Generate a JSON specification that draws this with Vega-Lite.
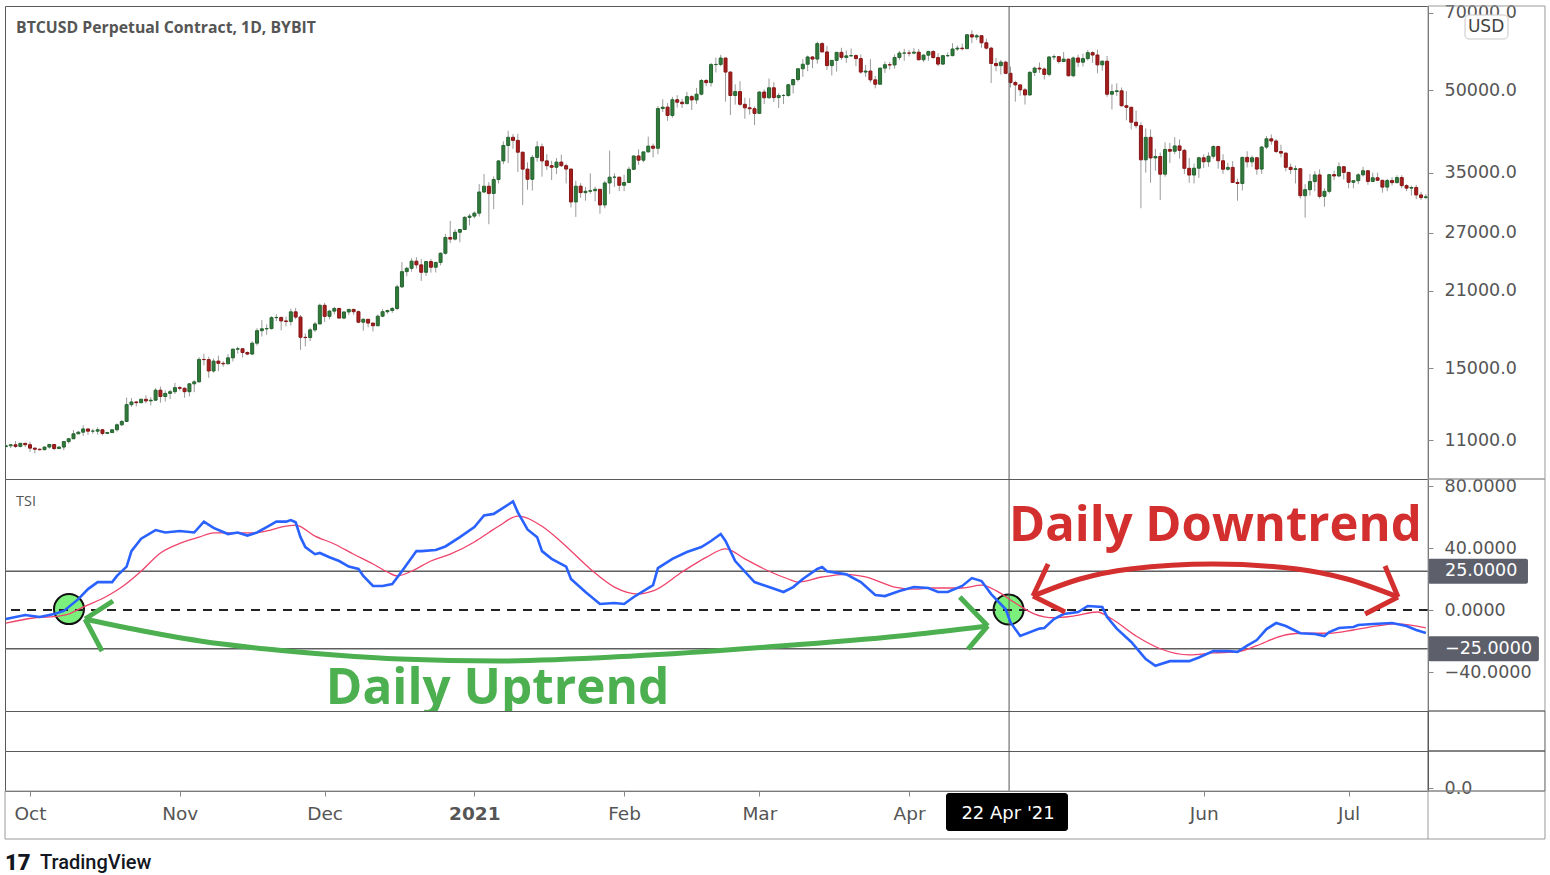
{
  "$schema": "https://vega.github.io/schema/vega-lite/v6.json",
  "padding": {"left": 0, "top": 3, "right": 0, "bottom": 0},
  "background": "white",
  "spacing": 0,
  "bounds": "flush",
  "config": {"view": {"stroke": "#5a5a5a", "strokeWidth": 1}},
  "datasets": {
    "one": [{}],
    "candles": [
      {"d":"2020-09-26T00:00","o":10690,"h":10780,"l":10650,"c":10730},
      {"d":"2020-09-27T00:00","o":10730,"h":10800,"l":10620,"c":10775},
      {"d":"2020-09-28T00:00","o":10775,"h":10950,"l":10630,"c":10700},
      {"d":"2020-09-29T00:00","o":10700,"h":10860,"l":10650,"c":10845},
      {"d":"2020-09-30T00:00","o":10845,"h":10850,"l":10670,"c":10780},
      {"d":"2020-10-01T00:00","o":10780,"h":10920,"l":10450,"c":10620},
      {"d":"2020-10-02T00:00","o":10620,"h":10650,"l":10380,"c":10570},
      {"d":"2020-10-03T00:00","o":10570,"h":10600,"l":10510,"c":10550},
      {"d":"2020-10-04T00:00","o":10550,"h":10690,"l":10520,"c":10670},
      {"d":"2020-10-05T00:00","o":10670,"h":10800,"l":10600,"c":10790},
      {"d":"2020-10-06T00:00","o":10790,"h":10800,"l":10530,"c":10600},
      {"d":"2020-10-07T00:00","o":10600,"h":10700,"l":10580,"c":10670},
      {"d":"2020-10-08T00:00","o":10670,"h":10960,"l":10530,"c":10925},
      {"d":"2020-10-09T00:00","o":10925,"h":11100,"l":10830,"c":11060},
      {"d":"2020-10-10T00:00","o":11060,"h":11490,"l":11050,"c":11300},
      {"d":"2020-10-11T00:00","o":11300,"h":11440,"l":11280,"c":11380},
      {"d":"2020-10-12T00:00","o":11380,"h":11720,"l":11200,"c":11540},
      {"d":"2020-10-13T00:00","o":11540,"h":11560,"l":11250,"c":11430},
      {"d":"2020-10-14T00:00","o":11430,"h":11550,"l":11300,"c":11430},
      {"d":"2020-10-15T00:00","o":11430,"h":11620,"l":11270,"c":11500},
      {"d":"2020-10-16T00:00","o":11500,"h":11540,"l":11220,"c":11320},
      {"d":"2020-10-17T00:00","o":11320,"h":11400,"l":11300,"c":11360},
      {"d":"2020-10-18T00:00","o":11360,"h":11500,"l":11350,"c":11500},
      {"d":"2020-10-19T00:00","o":11500,"h":11820,"l":11410,"c":11750},
      {"d":"2020-10-20T00:00","o":11750,"h":12000,"l":11690,"c":11920},
      {"d":"2020-10-21T00:00","o":11920,"h":13220,"l":11900,"c":12820},
      {"d":"2020-10-22T00:00","o":12820,"h":13190,"l":12700,"c":12970},
      {"d":"2020-10-23T00:00","o":12970,"h":13030,"l":12720,"c":12930},
      {"d":"2020-10-24T00:00","o":12930,"h":13170,"l":12900,"c":13120},
      {"d":"2020-10-25T00:00","o":13120,"h":13350,"l":12900,"c":13030},
      {"d":"2020-10-26T00:00","o":13030,"h":13240,"l":12780,"c":13070},
      {"d":"2020-10-27T00:00","o":13070,"h":13780,"l":13050,"c":13650},
      {"d":"2020-10-28T00:00","o":13650,"h":13860,"l":12930,"c":13280},
      {"d":"2020-10-29T00:00","o":13280,"h":13640,"l":12990,"c":13460},
      {"d":"2020-10-30T00:00","o":13460,"h":13680,"l":13130,"c":13560},
      {"d":"2020-10-31T00:00","o":13560,"h":14090,"l":13430,"c":13800},
      {"d":"2020-11-01T00:00","o":13800,"h":13900,"l":13630,"c":13760},
      {"d":"2020-11-02T00:00","o":13760,"h":13820,"l":13210,"c":13560},
      {"d":"2020-11-03T00:00","o":13560,"h":14070,"l":13290,"c":14030},
      {"d":"2020-11-04T00:00","o":14030,"h":14250,"l":13530,"c":14150},
      {"d":"2020-11-05T00:00","o":14150,"h":15750,"l":14100,"c":15590},
      {"d":"2020-11-06T00:00","o":15590,"h":15980,"l":15200,"c":15580},
      {"d":"2020-11-07T00:00","o":15580,"h":15770,"l":14400,"c":14830},
      {"d":"2020-11-08T00:00","o":14830,"h":15660,"l":14720,"c":15480},
      {"d":"2020-11-09T00:00","o":15480,"h":15850,"l":14820,"c":15330},
      {"d":"2020-11-10T00:00","o":15330,"h":15480,"l":15110,"c":15300},
      {"d":"2020-11-11T00:00","o":15300,"h":15950,"l":15280,"c":15700},
      {"d":"2020-11-12T00:00","o":15700,"h":16350,"l":15450,"c":16300},
      {"d":"2020-11-13T00:00","o":16300,"h":16480,"l":15980,"c":16330},
      {"d":"2020-11-14T00:00","o":16330,"h":16330,"l":15720,"c":16070},
      {"d":"2020-11-15T00:00","o":16070,"h":16140,"l":15870,"c":15960},
      {"d":"2020-11-16T00:00","o":15960,"h":16870,"l":15880,"c":16730},
      {"d":"2020-11-17T00:00","o":16730,"h":17850,"l":16550,"c":17660},
      {"d":"2020-11-18T00:00","o":17660,"h":18480,"l":17220,"c":17800},
      {"d":"2020-11-19T00:00","o":17800,"h":18150,"l":17350,"c":17820},
      {"d":"2020-11-20T00:00","o":17820,"h":18800,"l":17750,"c":18680},
      {"d":"2020-11-21T00:00","o":18680,"h":18960,"l":18400,"c":18700},
      {"d":"2020-11-22T00:00","o":18700,"h":18760,"l":17680,"c":18420},
      {"d":"2020-11-23T00:00","o":18420,"h":18770,"l":18000,"c":18370},
      {"d":"2020-11-24T00:00","o":18370,"h":19420,"l":18050,"c":19160},
      {"d":"2020-11-25T00:00","o":19160,"h":19480,"l":18560,"c":18730},
      {"d":"2020-11-26T00:00","o":18730,"h":18900,"l":16250,"c":17160},
      {"d":"2020-11-27T00:00","o":17160,"h":17450,"l":16500,"c":17140},
      {"d":"2020-11-28T00:00","o":17140,"h":17890,"l":16880,"c":17720},
      {"d":"2020-11-29T00:00","o":17720,"h":18340,"l":17550,"c":18180},
      {"d":"2020-11-30T00:00","o":18180,"h":19850,"l":18180,"c":19710},
      {"d":"2020-12-01T00:00","o":19710,"h":19920,"l":18330,"c":18790},
      {"d":"2020-12-02T00:00","o":18790,"h":19320,"l":18550,"c":19220},
      {"d":"2020-12-03T00:00","o":19220,"h":19580,"l":18950,"c":19440},
      {"d":"2020-12-04T00:00","o":19440,"h":19500,"l":18600,"c":18650},
      {"d":"2020-12-05T00:00","o":18650,"h":19180,"l":18550,"c":19150},
      {"d":"2020-12-06T00:00","o":19150,"h":19420,"l":18900,"c":19360},
      {"d":"2020-12-07T00:00","o":19360,"h":19420,"l":18910,"c":19170},
      {"d":"2020-12-08T00:00","o":19170,"h":19280,"l":18230,"c":18320},
      {"d":"2020-12-09T00:00","o":18320,"h":18640,"l":17650,"c":18550},
      {"d":"2020-12-10T00:00","o":18550,"h":18570,"l":17920,"c":18250},
      {"d":"2020-12-11T00:00","o":18250,"h":18280,"l":17600,"c":18040},
      {"d":"2020-12-12T00:00","o":18040,"h":18950,"l":18000,"c":18800},
      {"d":"2020-12-13T00:00","o":18800,"h":19400,"l":18720,"c":19170},
      {"d":"2020-12-14T00:00","o":19170,"h":19330,"l":19000,"c":19270},
      {"d":"2020-12-15T00:00","o":19270,"h":19560,"l":19080,"c":19440},
      {"d":"2020-12-16T00:00","o":19440,"h":21550,"l":19300,"c":21350},
      {"d":"2020-12-17T00:00","o":21350,"h":23770,"l":21240,"c":22800},
      {"d":"2020-12-18T00:00","o":22800,"h":23280,"l":22340,"c":23130},
      {"d":"2020-12-19T00:00","o":23130,"h":24170,"l":22800,"c":23860},
      {"d":"2020-12-20T00:00","o":23860,"h":24280,"l":23100,"c":23480},
      {"d":"2020-12-21T00:00","o":23480,"h":24090,"l":21900,"c":22740},
      {"d":"2020-12-22T00:00","o":22740,"h":23840,"l":22380,"c":23820},
      {"d":"2020-12-23T00:00","o":23820,"h":24100,"l":22700,"c":23240},
      {"d":"2020-12-24T00:00","o":23240,"h":23790,"l":22720,"c":23730},
      {"d":"2020-12-25T00:00","o":23730,"h":24780,"l":23430,"c":24690},
      {"d":"2020-12-26T00:00","o":24690,"h":26850,"l":24530,"c":26440},
      {"d":"2020-12-27T00:00","o":26440,"h":28400,"l":25800,"c":26250},
      {"d":"2020-12-28T00:00","o":26250,"h":27400,"l":26100,"c":27040},
      {"d":"2020-12-29T00:00","o":27040,"h":27380,"l":25900,"c":27360},
      {"d":"2020-12-30T00:00","o":27360,"h":28990,"l":27340,"c":28840},
      {"d":"2020-12-31T00:00","o":28840,"h":29300,"l":27850,"c":29000},
      {"d":"2021-01-01T00:00","o":29000,"h":29600,"l":28700,"c":29370},
      {"d":"2021-01-02T00:00","o":29370,"h":33300,"l":28950,"c":32190},
      {"d":"2021-01-03T00:00","o":32190,"h":34800,"l":32000,"c":33000},
      {"d":"2021-01-04T00:00","o":33000,"h":33600,"l":28000,"c":31990},
      {"d":"2021-01-05T00:00","o":31990,"h":34450,"l":29900,"c":33970},
      {"d":"2021-01-06T00:00","o":33970,"h":36950,"l":33400,"c":36820},
      {"d":"2021-01-07T00:00","o":36820,"h":40100,"l":36300,"c":39370},
      {"d":"2021-01-08T00:00","o":39370,"h":41950,"l":36500,"c":40790},
      {"d":"2021-01-09T00:00","o":40790,"h":41350,"l":38800,"c":40250},
      {"d":"2021-01-10T00:00","o":40250,"h":41400,"l":35100,"c":38240},
      {"d":"2021-01-11T00:00","o":38240,"h":38300,"l":30400,"c":35540},
      {"d":"2021-01-12T00:00","o":35540,"h":36600,"l":32500,"c":34010},
      {"d":"2021-01-13T00:00","o":34010,"h":37800,"l":32400,"c":37390},
      {"d":"2021-01-14T00:00","o":37390,"h":40100,"l":36700,"c":39150},
      {"d":"2021-01-15T00:00","o":39150,"h":39700,"l":34400,"c":36830},
      {"d":"2021-01-16T00:00","o":36830,"h":37900,"l":35400,"c":36070},
      {"d":"2021-01-17T00:00","o":36070,"h":36850,"l":33900,"c":35830},
      {"d":"2021-01-18T00:00","o":35830,"h":37300,"l":34800,"c":36640},
      {"d":"2021-01-19T00:00","o":36640,"h":37850,"l":35900,"c":36070},
      {"d":"2021-01-20T00:00","o":36070,"h":36400,"l":33400,"c":35550},
      {"d":"2021-01-21T00:00","o":35550,"h":35600,"l":30100,"c":30830},
      {"d":"2021-01-22T00:00","o":30830,"h":33800,"l":28900,"c":33010},
      {"d":"2021-01-23T00:00","o":33010,"h":33450,"l":31400,"c":32100},
      {"d":"2021-01-24T00:00","o":32100,"h":32900,"l":31000,"c":32290},
      {"d":"2021-01-25T00:00","o":32290,"h":34900,"l":31950,"c":32370},
      {"d":"2021-01-26T00:00","o":32370,"h":32950,"l":30900,"c":32570},
      {"d":"2021-01-27T00:00","o":32570,"h":32560,"l":29300,"c":30430},
      {"d":"2021-01-28T00:00","o":30430,"h":33800,"l":30000,"c":33470},
      {"d":"2021-01-29T00:00","o":33470,"h":38500,"l":31900,"c":34320},
      {"d":"2021-01-30T00:00","o":34320,"h":34900,"l":32900,"c":34320},
      {"d":"2021-01-31T00:00","o":34320,"h":34380,"l":32300,"c":33140},
      {"d":"2021-02-01T00:00","o":33140,"h":34700,"l":32300,"c":33540},
      {"d":"2021-02-02T00:00","o":33540,"h":35900,"l":33450,"c":35510},
      {"d":"2021-02-03T00:00","o":35510,"h":37700,"l":35400,"c":37620},
      {"d":"2021-02-04T00:00","o":37620,"h":38700,"l":36200,"c":36940},
      {"d":"2021-02-05T00:00","o":36940,"h":38300,"l":36600,"c":38290},
      {"d":"2021-02-06T00:00","o":38290,"h":40900,"l":38200,"c":39260},
      {"d":"2021-02-07T00:00","o":39260,"h":39700,"l":37400,"c":38900},
      {"d":"2021-02-08T00:00","o":38900,"h":46700,"l":37900,"c":46200},
      {"d":"2021-02-09T00:00","o":46200,"h":48100,"l":45500,"c":46480},
      {"d":"2021-02-10T00:00","o":46480,"h":47300,"l":43800,"c":44840},
      {"d":"2021-02-11T00:00","o":44840,"h":48600,"l":44400,"c":47990},
      {"d":"2021-02-12T00:00","o":47990,"h":48950,"l":46400,"c":47480},
      {"d":"2021-02-13T00:00","o":47480,"h":48200,"l":46300,"c":47180},
      {"d":"2021-02-14T00:00","o":47180,"h":49650,"l":47100,"c":48640},
      {"d":"2021-02-15T00:00","o":48640,"h":49000,"l":45900,"c":47950},
      {"d":"2021-02-16T00:00","o":47950,"h":50500,"l":47150,"c":49160},
      {"d":"2021-02-17T00:00","o":49160,"h":52500,"l":48900,"c":52150},
      {"d":"2021-02-18T00:00","o":52150,"h":52500,"l":50900,"c":51680},
      {"d":"2021-02-19T00:00","o":51680,"h":56300,"l":50800,"c":55880},
      {"d":"2021-02-20T00:00","o":55880,"h":57600,"l":54000,"c":55920},
      {"d":"2021-02-21T00:00","o":55920,"h":58300,"l":55500,"c":57490},
      {"d":"2021-02-22T00:00","o":57490,"h":57500,"l":47600,"c":54100},
      {"d":"2021-02-23T00:00","o":54100,"h":54200,"l":44900,"c":48880},
      {"d":"2021-02-24T00:00","o":48880,"h":51300,"l":47000,"c":49710},
      {"d":"2021-02-25T00:00","o":49710,"h":52000,"l":46700,"c":47050},
      {"d":"2021-02-26T00:00","o":47050,"h":48400,"l":44200,"c":46340},
      {"d":"2021-02-27T00:00","o":46340,"h":48300,"l":45000,"c":46160},
      {"d":"2021-02-28T00:00","o":46160,"h":46600,"l":43000,"c":45240},
      {"d":"2021-03-01T00:00","o":45240,"h":49800,"l":45100,"c":49620},
      {"d":"2021-03-02T00:00","o":49620,"h":50200,"l":47100,"c":48400},
      {"d":"2021-03-03T00:00","o":48400,"h":52600,"l":48200,"c":50540},
      {"d":"2021-03-04T00:00","o":50540,"h":51800,"l":47500,"c":48440},
      {"d":"2021-03-05T00:00","o":48440,"h":49400,"l":46300,"c":48880},
      {"d":"2021-03-06T00:00","o":48880,"h":49200,"l":47100,"c":48880},
      {"d":"2021-03-07T00:00","o":48880,"h":51400,"l":48600,"c":51210},
      {"d":"2021-03-08T00:00","o":51210,"h":52400,"l":49300,"c":52380},
      {"d":"2021-03-09T00:00","o":52380,"h":54900,"l":51900,"c":54880},
      {"d":"2021-03-10T00:00","o":54880,"h":57200,"l":53000,"c":55960},
      {"d":"2021-03-11T00:00","o":55960,"h":58100,"l":54300,"c":57750},
      {"d":"2021-03-12T00:00","o":57750,"h":58000,"l":55000,"c":57230},
      {"d":"2021-03-13T00:00","o":57230,"h":61700,"l":56100,"c":61190},
      {"d":"2021-03-14T00:00","o":61190,"h":61600,"l":58950,"c":59020},
      {"d":"2021-03-15T00:00","o":59020,"h":60600,"l":54600,"c":55640},
      {"d":"2021-03-16T00:00","o":55640,"h":56900,"l":53300,"c":56910},
      {"d":"2021-03-17T00:00","o":56910,"h":58950,"l":54200,"c":58920},
      {"d":"2021-03-18T00:00","o":58920,"h":60100,"l":57000,"c":57650},
      {"d":"2021-03-19T00:00","o":57650,"h":59400,"l":56300,"c":58030},
      {"d":"2021-03-20T00:00","o":58030,"h":59900,"l":57800,"c":58100},
      {"d":"2021-03-21T00:00","o":58100,"h":58400,"l":55500,"c":57350},
      {"d":"2021-03-22T00:00","o":57350,"h":58400,"l":53700,"c":54100},
      {"d":"2021-03-23T00:00","o":54100,"h":55800,"l":53000,"c":54340},
      {"d":"2021-03-24T00:00","o":54340,"h":57200,"l":51700,"c":52300},
      {"d":"2021-03-25T00:00","o":52300,"h":53200,"l":50400,"c":51320},
      {"d":"2021-03-26T00:00","o":51320,"h":55100,"l":51300,"c":55030},
      {"d":"2021-03-27T00:00","o":55030,"h":56600,"l":53900,"c":55850},
      {"d":"2021-03-28T00:00","o":55850,"h":56550,"l":54700,"c":55790},
      {"d":"2021-03-29T00:00","o":55790,"h":58400,"l":54900,"c":57630},
      {"d":"2021-03-30T00:00","o":57630,"h":59300,"l":57000,"c":58730},
      {"d":"2021-03-31T00:00","o":58730,"h":59800,"l":56800,"c":58740},
      {"d":"2021-04-01T00:00","o":58740,"h":59500,"l":57900,"c":58720},
      {"d":"2021-04-02T00:00","o":58720,"h":60000,"l":58450,"c":58960},
      {"d":"2021-04-03T00:00","o":58960,"h":59800,"l":56900,"c":57060},
      {"d":"2021-04-04T00:00","o":57060,"h":58500,"l":56500,"c":58200},
      {"d":"2021-04-05T00:00","o":58200,"h":59300,"l":56800,"c":59120},
      {"d":"2021-04-06T00:00","o":59120,"h":59500,"l":57300,"c":57600},
      {"d":"2021-04-07T00:00","o":57600,"h":58700,"l":55500,"c":56000},
      {"d":"2021-04-08T00:00","o":56000,"h":58200,"l":55800,"c":58080},
      {"d":"2021-04-09T00:00","o":58080,"h":58900,"l":57700,"c":58090},
      {"d":"2021-04-10T00:00","o":58090,"h":61300,"l":57900,"c":59780},
      {"d":"2021-04-11T00:00","o":59780,"h":60700,"l":59300,"c":60000},
      {"d":"2021-04-12T00:00","o":60000,"h":61200,"l":59400,"c":59860},
      {"d":"2021-04-13T00:00","o":59860,"h":63800,"l":59800,"c":63580},
      {"d":"2021-04-14T00:00","o":63580,"h":64850,"l":61300,"c":62960},
      {"d":"2021-04-15T00:00","o":62960,"h":63800,"l":62100,"c":63310},
      {"d":"2021-04-16T00:00","o":63310,"h":63500,"l":60100,"c":61410},
      {"d":"2021-04-17T00:00","o":61410,"h":62500,"l":59700,"c":60000},
      {"d":"2021-04-18T00:00","o":60000,"h":60400,"l":51600,"c":56150},
      {"d":"2021-04-19T00:00","o":56150,"h":57500,"l":54300,"c":55630},
      {"d":"2021-04-20T00:00","o":55630,"h":57000,"l":53500,"c":56470},
      {"d":"2021-04-21T00:00","o":56470,"h":56800,"l":53600,"c":53800},
      {"d":"2021-04-22T00:00","o":53800,"h":55400,"l":50600,"c":51700},
      {"d":"2021-04-23T00:00","o":51700,"h":52100,"l":47600,"c":51180},
      {"d":"2021-04-24T00:00","o":51180,"h":51200,"l":48800,"c":50090},
      {"d":"2021-04-25T00:00","o":50090,"h":50500,"l":47000,"c":49000},
      {"d":"2021-04-26T00:00","o":49000,"h":54300,"l":48800,"c":54030},
      {"d":"2021-04-27T00:00","o":54030,"h":55400,"l":53200,"c":55030},
      {"d":"2021-04-28T00:00","o":55030,"h":56400,"l":53900,"c":54820},
      {"d":"2021-04-29T00:00","o":54820,"h":55200,"l":52400,"c":53560},
      {"d":"2021-04-30T00:00","o":53560,"h":58000,"l":53100,"c":57750},
      {"d":"2021-05-01T00:00","o":57750,"h":58400,"l":57000,"c":57830},
      {"d":"2021-05-02T00:00","o":57830,"h":57900,"l":56100,"c":56630},
      {"d":"2021-05-03T00:00","o":56630,"h":59000,"l":56500,"c":57210},
      {"d":"2021-05-04T00:00","o":57210,"h":57300,"l":53100,"c":53240},
      {"d":"2021-05-05T00:00","o":53240,"h":57900,"l":52900,"c":57500},
      {"d":"2021-05-06T00:00","o":57500,"h":58300,"l":55300,"c":56460},
      {"d":"2021-05-07T00:00","o":56460,"h":58600,"l":55400,"c":57340},
      {"d":"2021-05-08T00:00","o":57340,"h":59500,"l":56900,"c":58840},
      {"d":"2021-05-09T00:00","o":58840,"h":59200,"l":56300,"c":58240},
      {"d":"2021-05-10T00:00","o":58240,"h":59600,"l":53800,"c":55820},
      {"d":"2021-05-11T00:00","o":55820,"h":56900,"l":54400,"c":56700},
      {"d":"2021-05-12T00:00","o":56700,"h":58000,"l":48600,"c":49150},
      {"d":"2021-05-13T00:00","o":49150,"h":51300,"l":46000,"c":49720},
      {"d":"2021-05-14T00:00","o":49720,"h":51500,"l":48800,"c":49880},
      {"d":"2021-05-15T00:00","o":49880,"h":50600,"l":46600,"c":46760},
      {"d":"2021-05-16T00:00","o":46760,"h":49800,"l":43900,"c":46440},
      {"d":"2021-05-17T00:00","o":46440,"h":46600,"l":42200,"c":43540},
      {"d":"2021-05-18T00:00","o":43540,"h":45800,"l":42400,"c":42900},
      {"d":"2021-05-19T00:00","o":42900,"h":43500,"l":30000,"c":37000},
      {"d":"2021-05-20T00:00","o":37000,"h":42400,"l":35000,"c":40780},
      {"d":"2021-05-21T00:00","o":40780,"h":42200,"l":33500,"c":37300},
      {"d":"2021-05-22T00:00","o":37300,"h":38800,"l":35300,"c":37540},
      {"d":"2021-05-23T00:00","o":37540,"h":38200,"l":31100,"c":34770},
      {"d":"2021-05-24T00:00","o":34770,"h":39900,"l":34400,"c":38700},
      {"d":"2021-05-25T00:00","o":38700,"h":39800,"l":36500,"c":38400},
      {"d":"2021-05-26T00:00","o":38400,"h":40800,"l":37900,"c":39290},
      {"d":"2021-05-27T00:00","o":39290,"h":40400,"l":37200,"c":38550},
      {"d":"2021-05-28T00:00","o":38550,"h":38800,"l":34800,"c":35660},
      {"d":"2021-05-29T00:00","o":35660,"h":37300,"l":33500,"c":34640},
      {"d":"2021-05-30T00:00","o":34640,"h":36400,"l":33400,"c":35680},
      {"d":"2021-05-31T00:00","o":35680,"h":37500,"l":34200,"c":37330},
      {"d":"2021-06-01T00:00","o":37330,"h":37900,"l":35700,"c":36690},
      {"d":"2021-06-02T00:00","o":36690,"h":38200,"l":35900,"c":37580},
      {"d":"2021-06-03T00:00","o":37580,"h":39400,"l":37200,"c":39190},
      {"d":"2021-06-04T00:00","o":39190,"h":39300,"l":35600,"c":36850},
      {"d":"2021-06-05T00:00","o":36850,"h":37900,"l":34800,"c":35520},
      {"d":"2021-06-06T00:00","o":35520,"h":36500,"l":35300,"c":35800},
      {"d":"2021-06-07T00:00","o":35800,"h":36800,"l":33500,"c":33550},
      {"d":"2021-06-08T00:00","o":33550,"h":34100,"l":31000,"c":33400},
      {"d":"2021-06-09T00:00","o":33400,"h":37500,"l":32400,"c":37390},
      {"d":"2021-06-10T00:00","o":37390,"h":38400,"l":35800,"c":36680},
      {"d":"2021-06-11T00:00","o":36680,"h":37700,"l":35900,"c":37330},
      {"d":"2021-06-12T00:00","o":37330,"h":37400,"l":34700,"c":35550},
      {"d":"2021-06-13T00:00","o":35550,"h":39300,"l":34800,"c":39100},
      {"d":"2021-06-14T00:00","o":39100,"h":41000,"l":38800,"c":40520},
      {"d":"2021-06-15T00:00","o":40520,"h":41300,"l":39500,"c":40140},
      {"d":"2021-06-16T00:00","o":40140,"h":40500,"l":38100,"c":38350},
      {"d":"2021-06-17T00:00","o":38350,"h":39500,"l":37400,"c":38090},
      {"d":"2021-06-18T00:00","o":38090,"h":38200,"l":35200,"c":35820},
      {"d":"2021-06-19T00:00","o":35820,"h":36400,"l":34800,"c":35480},
      {"d":"2021-06-20T00:00","o":35480,"h":36100,"l":33400,"c":35600},
      {"d":"2021-06-21T00:00","o":35600,"h":35700,"l":31300,"c":31680},
      {"d":"2021-06-22T00:00","o":31680,"h":33300,"l":28800,"c":32510},
      {"d":"2021-06-23T00:00","o":32510,"h":34800,"l":31700,"c":33680},
      {"d":"2021-06-24T00:00","o":33680,"h":35200,"l":32300,"c":34660},
      {"d":"2021-06-25T00:00","o":34660,"h":35500,"l":31300,"c":31590},
      {"d":"2021-06-26T00:00","o":31590,"h":32700,"l":30200,"c":32280},
      {"d":"2021-06-27T00:00","o":32280,"h":34700,"l":32000,"c":34700},
      {"d":"2021-06-28T00:00","o":34700,"h":35300,"l":33900,"c":34500},
      {"d":"2021-06-29T00:00","o":34500,"h":36600,"l":34300,"c":35910},
      {"d":"2021-06-30T00:00","o":35910,"h":36000,"l":34000,"c":35040},
      {"d":"2021-07-01T00:00","o":35040,"h":35100,"l":32700,"c":33570},
      {"d":"2021-07-02T00:00","o":33570,"h":33900,"l":32700,"c":33800},
      {"d":"2021-07-03T00:00","o":33800,"h":34900,"l":33300,"c":34670},
      {"d":"2021-07-04T00:00","o":34670,"h":35900,"l":34400,"c":35290},
      {"d":"2021-07-05T00:00","o":35290,"h":35300,"l":33200,"c":33690},
      {"d":"2021-07-06T00:00","o":33690,"h":35000,"l":33600,"c":34230},
      {"d":"2021-07-07T00:00","o":34230,"h":35000,"l":33800,"c":33860},
      {"d":"2021-07-08T00:00","o":33860,"h":33900,"l":32100,"c":32880},
      {"d":"2021-07-09T00:00","o":32880,"h":34100,"l":32300,"c":33820},
      {"d":"2021-07-10T00:00","o":33820,"h":34300,"l":33100,"c":33520},
      {"d":"2021-07-11T00:00","o":33520,"h":34600,"l":33400,"c":34260},
      {"d":"2021-07-12T00:00","o":34260,"h":34600,"l":32700,"c":33090},
      {"d":"2021-07-13T00:00","o":33090,"h":33300,"l":32300,"c":32730},
      {"d":"2021-07-14T00:00","o":32730,"h":33100,"l":31700,"c":32820},
      {"d":"2021-07-15T00:00","o":32820,"h":33200,"l":31200,"c":31780},
      {"d":"2021-07-16T00:00","o":31780,"h":32200,"l":31100,"c":31420},
      {"d":"2021-07-17T00:00","o":31420,"h":31900,"l":31200,"c":31530}
    ],
    "tsi": [
      {"d":"2020-09-26T00:00","v":-5.8},{"d":"2020-09-30T00:00","v":-3.2},{"d":"2020-10-03T00:00","v":-4.5},
      {"d":"2020-10-06T00:00","v":-2.6},{"d":"2020-10-08T00:00","v":-0.6},{"d":"2020-10-11T00:00","v":7},
      {"d":"2020-10-13T00:00","v":13.5},{"d":"2020-10-15T00:00","v":18},{"d":"2020-10-18T00:00","v":18},
      {"d":"2020-10-19T00:00","v":22},{"d":"2020-10-21T00:00","v":28},{"d":"2020-10-22T00:00","v":38},
      {"d":"2020-10-24T00:00","v":46},{"d":"2020-10-27T00:00","v":51.6},{"d":"2020-10-29T00:00","v":50},
      {"d":"2020-11-01T00:00","v":51},{"d":"2020-11-04T00:00","v":50},{"d":"2020-11-06T00:00","v":57},
      {"d":"2020-11-08T00:00","v":53},{"d":"2020-11-11T00:00","v":49},{"d":"2020-11-13T00:00","v":50},
      {"d":"2020-11-15T00:00","v":48},{"d":"2020-11-17T00:00","v":50},{"d":"2020-11-19T00:00","v":53.5},
      {"d":"2020-11-21T00:00","v":57},{"d":"2020-11-23T00:00","v":57},{"d":"2020-11-24T00:00","v":58},
      {"d":"2020-11-25T00:00","v":56.6},{"d":"2020-11-26T00:00","v":47},{"d":"2020-11-27T00:00","v":40.6},
      {"d":"2020-11-29T00:00","v":36},{"d":"2020-11-30T00:00","v":36.8},{"d":"2020-12-02T00:00","v":34},
      {"d":"2020-12-04T00:00","v":31.6},{"d":"2020-12-06T00:00","v":28},{"d":"2020-12-08T00:00","v":26.5},
      {"d":"2020-12-09T00:00","v":22},{"d":"2020-12-11T00:00","v":15.5},{"d":"2020-12-13T00:00","v":15.5},
      {"d":"2020-12-15T00:00","v":16.8},{"d":"2020-12-17T00:00","v":25},{"d":"2020-12-20T00:00","v":38},
      {"d":"2020-12-21T00:00","v":38},{"d":"2020-12-24T00:00","v":38.7},{"d":"2020-12-26T00:00","v":41},
      {"d":"2020-12-29T00:00","v":47},{"d":"2021-01-01T00:00","v":53.5},{"d":"2021-01-03T00:00","v":61},
      {"d":"2021-01-05T00:00","v":62},{"d":"2021-01-09T00:00","v":70},{"d":"2021-01-10T00:00","v":63},
      {"d":"2021-01-12T00:00","v":52},{"d":"2021-01-14T00:00","v":47},{"d":"2021-01-15T00:00","v":38},
      {"d":"2021-01-17T00:00","v":33},{"d":"2021-01-20T00:00","v":28},{"d":"2021-01-21T00:00","v":20},
      {"d":"2021-01-24T00:00","v":11.6},{"d":"2021-01-27T00:00","v":3.9},{"d":"2021-01-30T00:00","v":4.5},
      {"d":"2021-02-01T00:00","v":3.9},{"d":"2021-02-03T00:00","v":8.4},{"d":"2021-02-07T00:00","v":16},
      {"d":"2021-02-08T00:00","v":27},{"d":"2021-02-11T00:00","v":33},{"d":"2021-02-14T00:00","v":37.4},
      {"d":"2021-02-17T00:00","v":40.6},{"d":"2021-02-19T00:00","v":44.5},{"d":"2021-02-21T00:00","v":49},
      {"d":"2021-02-22T00:00","v":44.5},{"d":"2021-02-24T00:00","v":31.6},{"d":"2021-02-28T00:00","v":18},
      {"d":"2021-03-03T00:00","v":14.8},{"d":"2021-03-06T00:00","v":11.6},{"d":"2021-03-08T00:00","v":14.8},
      {"d":"2021-03-10T00:00","v":20},{"d":"2021-03-13T00:00","v":26.5},{"d":"2021-03-14T00:00","v":27.7},
      {"d":"2021-03-15T00:00","v":25},{"d":"2021-03-19T00:00","v":23},{"d":"2021-03-22T00:00","v":18},
      {"d":"2021-03-25T00:00","v":9.7},{"d":"2021-03-27T00:00","v":9},{"d":"2021-03-30T00:00","v":12.3},
      {"d":"2021-04-02T00:00","v":14.8},{"d":"2021-04-05T00:00","v":14.2},{"d":"2021-04-07T00:00","v":11.6},
      {"d":"2021-04-09T00:00","v":11.6},{"d":"2021-04-12T00:00","v":15.5},{"d":"2021-04-14T00:00","v":20.6},
      {"d":"2021-04-16T00:00","v":18.7},{"d":"2021-04-18T00:00","v":10.3},{"d":"2021-04-21T00:00","v":0.5},
      {"d":"2021-04-22T00:00","v":-8},{"d":"2021-04-24T00:00","v":-16.7},{"d":"2021-04-28T00:00","v":-12},
      {"d":"2021-04-29T00:00","v":-11.6},{"d":"2021-05-01T00:00","v":-5.8},{"d":"2021-05-03T00:00","v":-2.6},
      {"d":"2021-05-06T00:00","v":-1.3},{"d":"2021-05-08T00:00","v":2.6},{"d":"2021-05-11T00:00","v":1.9},
      {"d":"2021-05-12T00:00","v":-4.5},{"d":"2021-05-14T00:00","v":-12},{"d":"2021-05-17T00:00","v":-20.6},
      {"d":"2021-05-19T00:00","v":-28},{"d":"2021-05-20T00:00","v":-31.6},{"d":"2021-05-22T00:00","v":-36},
      {"d":"2021-05-25T00:00","v":-33},{"d":"2021-05-29T00:00","v":-33},{"d":"2021-05-31T00:00","v":-30.6},
      {"d":"2021-06-03T00:00","v":-26.5},{"d":"2021-06-06T00:00","v":-26.5},{"d":"2021-06-08T00:00","v":-27},
      {"d":"2021-06-10T00:00","v":-23},{"d":"2021-06-12T00:00","v":-19.4},{"d":"2021-06-14T00:00","v":-12.3},
      {"d":"2021-06-16T00:00","v":-8.4},{"d":"2021-06-18T00:00","v":-10.3},{"d":"2021-06-21T00:00","v":-15},
      {"d":"2021-06-24T00:00","v":-15.5},{"d":"2021-06-26T00:00","v":-16.8},{"d":"2021-06-27T00:00","v":-14.2},
      {"d":"2021-06-29T00:00","v":-11.6},{"d":"2021-07-02T00:00","v":-11},{"d":"2021-07-03T00:00","v":-9.7},
      {"d":"2021-07-06T00:00","v":-9},{"d":"2021-07-10T00:00","v":-8.4},{"d":"2021-07-13T00:00","v":-10.3},
      {"d":"2021-07-15T00:00","v":-12.9},{"d":"2021-07-17T00:00","v":-14.8}
    ],
    "signal": [
      {"d":"2020-09-26T00:00","v":-8.4},{"d":"2020-10-02T00:00","v":-5},{"d":"2020-10-07T00:00","v":-3.9},
      {"d":"2020-10-09T00:00","v":-2.6},{"d":"2020-10-12T00:00","v":1.9},{"d":"2020-10-17T00:00","v":9},
      {"d":"2020-10-20T00:00","v":14.8},{"d":"2020-10-24T00:00","v":25},{"d":"2020-10-28T00:00","v":36.8},
      {"d":"2020-11-01T00:00","v":43},{"d":"2020-11-05T00:00","v":47},{"d":"2020-11-08T00:00","v":49.7},
      {"d":"2020-11-12T00:00","v":49.7},{"d":"2020-11-16T00:00","v":49.7},{"d":"2020-11-19T00:00","v":51},
      {"d":"2020-11-22T00:00","v":53.5},{"d":"2020-11-25T00:00","v":54.8},{"d":"2020-11-29T00:00","v":47.7},
      {"d":"2020-12-03T00:00","v":42.6},{"d":"2020-12-07T00:00","v":36},{"d":"2020-12-11T00:00","v":29.7},
      {"d":"2020-12-14T00:00","v":24.5},{"d":"2020-12-16T00:00","v":22},{"d":"2020-12-19T00:00","v":25},
      {"d":"2020-12-23T00:00","v":31.6},{"d":"2020-12-27T00:00","v":36},{"d":"2021-01-01T00:00","v":43.9},
      {"d":"2021-01-04T00:00","v":50},{"d":"2021-01-06T00:00","v":54},{"d":"2021-01-10T00:00","v":60.6},
      {"d":"2021-01-15T00:00","v":54},{"d":"2021-01-19T00:00","v":43.9},{"d":"2021-01-25T00:00","v":26.5},
      {"d":"2021-01-30T00:00","v":14.8},{"d":"2021-02-04T00:00","v":10.3},{"d":"2021-02-07T00:00","v":12.3},
      {"d":"2021-02-13T00:00","v":24.5},{"d":"2021-02-18T00:00","v":34},{"d":"2021-02-22T00:00","v":39.4},
      {"d":"2021-02-26T00:00","v":33},{"d":"2021-03-03T00:00","v":25},{"d":"2021-03-07T00:00","v":20},
      {"d":"2021-03-09T00:00","v":18},{"d":"2021-03-14T00:00","v":21.3},{"d":"2021-03-19T00:00","v":23},
      {"d":"2021-03-23T00:00","v":21.3},{"d":"2021-03-29T00:00","v":14.8},{"d":"2021-04-02T00:00","v":13.5},
      {"d":"2021-04-06T00:00","v":14.2},{"d":"2021-04-12T00:00","v":14.2},{"d":"2021-04-16T00:00","v":16},
      {"d":"2021-04-19T00:00","v":12.5},{"d":"2021-04-23T00:00","v":4.5},{"d":"2021-04-27T00:00","v":-2.6},
      {"d":"2021-05-01T00:00","v":-5},{"d":"2021-05-05T00:00","v":-3.9},{"d":"2021-05-10T00:00","v":-1.3},
      {"d":"2021-05-13T00:00","v":-5.8},{"d":"2021-05-18T00:00","v":-16.8},{"d":"2021-05-23T00:00","v":-25},
      {"d":"2021-05-29T00:00","v":-29},{"d":"2021-06-03T00:00","v":-27.7},{"d":"2021-06-08T00:00","v":-27},
      {"d":"2021-06-12T00:00","v":-23},{"d":"2021-06-17T00:00","v":-16.8},{"d":"2021-06-21T00:00","v":-15},
      {"d":"2021-06-27T00:00","v":-15},{"d":"2021-07-02T00:00","v":-12.9},{"d":"2021-07-07T00:00","v":-10.3},
      {"d":"2021-07-11T00:00","v":-9},{"d":"2021-07-17T00:00","v":-11.6}
    ],
    "crossings": [
      {"d":"2020-10-09T01:40","v":0.6},
      {"d":"2021-04-21T14:20","v":0.3}
    ],
    "greenArc": [
      {"d":"2020-10-12T09:20","v":-5.8},{"d":"2020-10-22T08:00","v":-12.3},{"d":"2020-11-05T05:00","v":-20},
      {"d":"2020-11-19T00:00","v":-25.2},{"d":"2020-12-03T02:00","v":-29},{"d":"2020-12-16T14:00","v":-31.6},
      {"d":"2021-01-06T07:00","v":-32.9},{"d":"2021-02-02T19:00","v":-29.7},{"d":"2021-03-02T14:00","v":-23.9},
      {"d":"2021-03-30T02:00","v":-16.8},{"d":"2021-04-17T07:00","v":-10.3}
    ],
    "greenHeads": [
      {"d":"2020-10-12T09:20","v":-5.8,"d2":"2020-10-18T04:20","v2":5.8},
      {"d":"2020-10-12T09:20","v":-5.8,"d2":"2020-10-15T21:40","v2":-26.5},
      {"d":"2021-04-17T07:00","v":-10.3,"d2":"2021-04-11T12:00","v2":8.4},
      {"d":"2021-04-17T07:00","v":-10.3,"d2":"2021-04-13T05:00","v2":-25.2}
    ],
    "redArc": [
      {"d":"2021-04-26T16:00","v":9},{"d":"2021-05-06T09:00","v":20},{"d":"2021-05-16T18:00","v":26.5},
      {"d":"2021-06-02T22:00","v":29.7},{"d":"2021-06-20T08:00","v":26.5},{"d":"2021-06-30T16:00","v":20},
      {"d":"2021-07-11T05:30","v":8.4}
    ],
    "redHeads": [
      {"d":"2021-04-26T16:00","v":9,"d2":"2021-04-29T18:30","v2":29.7},
      {"d":"2021-04-26T16:00","v":9,"d2":"2021-05-03T07:00","v2":-1.3},
      {"d":"2021-07-11T05:30","v":8.4,"d2":"2021-07-08T13:00","v2":28.4},
      {"d":"2021-07-11T05:30","v":8.4,"d2":"2021-07-04T10:00","v2":-2.6}
    ]
  },
  "vconcat": [
    {
      "width": 1423,
      "height": 473,
      "layer": [
        {
          "data": {"name": "candles"},
          "mark": {"type": "rule", "color": "#9a9a9a", "strokeWidth": 1, "clip": true},
          "encoding": {
            "x": {"field": "d", "type": "temporal", "axis": null,
                  "scale": {"padding": 0, "domain": [{"year":2020,"month":9,"date":25,"hours":19,"minutes":41},{"year":2021,"month":7,"date":17,"hours":10,"minutes":33}]}},
            "y": {"field": "l", "type": "quantitative",
                  "scale": {"type": "log", "domain": [9292, 72010], "nice": false, "zero": false},
                  "axis": {"orient": "right", "values": [11000, 15000, 21000, 27000, 35000, 50000, 70000], "format": ".1f",
                           "title": null, "grid": false, "domain": false, "tickColor": "#888", "tickSize": 5,
                           "labelPadding": 11, "labelFont": "DejaVu Sans", "labelFontSize": 17.5, "labelColor": "#555",
                           "labelFlush": false, "labelOverlap": false}},
            "y2": {"field": "h"}
          }
        },
        {
          "data": {"name": "candles"},
          "mark": {"type": "bar", "width": 3, "strokeWidth": 1, "clip": true},
          "encoding": {
            "x": {"field": "d", "type": "temporal", "axis": null},
            "y": {"field": "o", "type": "quantitative"},
            "y2": {"field": "c"},
            "fill": {"condition": {"test": "datum.c >= datum.o", "value": "#2f7a3b"}, "value": "#a51d1d"},
            "stroke": {"condition": {"test": "datum.c >= datum.o", "value": "#25632f"}, "value": "#861515"}
          }
        },
        {
          "data": {"name": "one"},
          "mark": {"type": "rule", "color": "#555", "strokeWidth": 1},
          "encoding": {
            "x": {"datum": {"year":2021,"month":4,"date":21,"hours":17}, "type": "temporal", "axis": null}
          }
        },
        {
          "data": {"name": "one"},
          "mark": {"type": "text", "text": "BTCUSD Perpetual Contract, 1D, BYBIT", "align": "left", "baseline": "middle",
                   "font": "Open Sans", "fontWeight": "bold", "fontSize": 15.8, "color": "#555"},
          "encoding": {
            "x": {"datum": {"year":2020,"month":9,"date":28,"hours":2,"minutes":24}, "type": "temporal", "axis": null},
            "y": {"datum": 65610, "type": "quantitative"}
          }
        },
        {
          "data": {"name": "one"},
          "mark": {"type": "rect", "fill": "white", "stroke": "#c8c8c8", "strokeWidth": 1, "cornerRadius": 4},
          "encoding": {
            "x": {"datum": {"year":2021,"month":7,"date":25,"hours":2,"minutes":30}, "type": "temporal", "axis": null},
            "x2": {"datum": {"year":2021,"month":8,"date":3}},
            "y": {"datum": 69260, "type": "quantitative"},
            "y2": {"datum": 62425}
          }
        },
        {
          "data": {"name": "one"},
          "mark": {"type": "text", "text": "USD", "align": "center", "baseline": "middle",
                   "font": "DejaVu Sans", "fontSize": 17, "color": "#444"},
          "encoding": {
            "x": {"datum": {"year":2021,"month":7,"date":29,"hours":11}, "type": "temporal", "axis": null},
            "y": {"datum": 65750, "type": "quantitative"}
          }
        },
        {
          "data": {"name": "one"},
          "mark": {"type": "rect", "fillOpacity": 0, "stroke": "#9a9a9a", "strokeWidth": 1},
          "encoding": {
            "x": {"datum": {"year":2021,"month":7,"date":17,"hours":10,"minutes":33}, "type": "temporal", "axis": null},
            "x2": {"datum": {"year":2021,"month":8,"date":10,"hours":15,"minutes":50}},
            "y": {"datum": 72010, "type": "quantitative"},
            "y2": {"datum": 9292}
          }
        }
      ]
    },
    {
      "width": 1423,
      "height": 232,
      "layer": [
        {
          "data": {"name": "crossings"},
          "mark": {"type": "point", "shape": "circle", "filled": true, "size": 900, "fill": "#7cf07c", "stroke": "#111", "strokeWidth": 2, "opacity": 1},
          "encoding": {
            "x": {"field": "d", "type": "temporal", "axis": null,
                  "scale": {"domain": [{"year":2020,"month":9,"date":25,"hours":19,"minutes":41},{"year":2021,"month":7,"date":17,"hours":10,"minutes":33}]}},
            "y": {"field": "v", "type": "quantitative",
                  "scale": {"domain": [-65.16, 84.52], "nice": false, "zero": false},
                  "axis": {"orient": "right", "values": [80, 40, 0, -40], "format": ".4f",
                           "title": null, "grid": false, "domain": false, "tickColor": "#888", "tickSize": 5,
                           "labelPadding": 11, "labelFont": "DejaVu Sans", "labelFontSize": 17.5, "labelColor": "#555",
                           "labelFlush": false, "labelOverlap": false}}
          }
        },
        {
          "data": {"name": "one"},
          "mark": {"type": "rule", "color": "#5e5e5e", "strokeWidth": 1.5},
          "encoding": {"y": {"datum": 25, "type": "quantitative"}}
        },
        {
          "data": {"name": "one"},
          "mark": {"type": "rule", "color": "#5e5e5e", "strokeWidth": 1.5},
          "encoding": {"y": {"datum": -25, "type": "quantitative"}}
        },
        {
          "data": {"name": "one"},
          "mark": {"type": "rule", "color": "#222", "strokeWidth": 1.8, "strokeDash": [9, 7]},
          "encoding": {"y": {"datum": 0, "type": "quantitative"}}
        },
        {
          "data": {"name": "one"},
          "mark": {"type": "rule", "color": "#555", "strokeWidth": 1},
          "encoding": {"x": {"datum": {"year":2021,"month":4,"date":21,"hours":17}, "type": "temporal", "axis": null}}
        },
        {
          "data": {"name": "signal"},
          "mark": {"type": "line", "color": "#f0436b", "strokeWidth": 1.3, "interpolate": "monotone"},
          "encoding": {
            "x": {"field": "d", "type": "temporal", "axis": null},
            "y": {"field": "v", "type": "quantitative"}
          }
        },
        {
          "data": {"name": "tsi"},
          "mark": {"type": "line", "color": "#2962ff", "strokeWidth": 2.6},
          "encoding": {
            "x": {"field": "d", "type": "temporal", "axis": null},
            "y": {"field": "v", "type": "quantitative"}
          }
        },
        {
          "data": {"name": "greenArc"},
          "mark": {"type": "line", "color": "#4caf50", "strokeWidth": 5, "interpolate": "monotone"},
          "encoding": {
            "x": {"field": "d", "type": "temporal", "axis": null},
            "y": {"field": "v", "type": "quantitative"}
          }
        },
        {
          "data": {"name": "greenHeads"},
          "mark": {"type": "rule", "color": "#4caf50", "strokeWidth": 5},
          "encoding": {
            "x": {"field": "d", "type": "temporal", "axis": null},
            "y": {"field": "v", "type": "quantitative"},
            "x2": {"field": "d2"},
            "y2": {"field": "v2"}
          }
        },
        {
          "data": {"name": "redArc"},
          "mark": {"type": "line", "color": "#d32f2f", "strokeWidth": 5, "interpolate": "monotone"},
          "encoding": {
            "x": {"field": "d", "type": "temporal", "axis": null},
            "y": {"field": "v", "type": "quantitative"}
          }
        },
        {
          "data": {"name": "redHeads"},
          "mark": {"type": "rule", "color": "#d32f2f", "strokeWidth": 5},
          "encoding": {
            "x": {"field": "d", "type": "temporal", "axis": null},
            "y": {"field": "v", "type": "quantitative"},
            "x2": {"field": "d2"},
            "y2": {"field": "v2"}
          }
        },
        {
          "data": {"name": "one"},
          "mark": {"type": "text", "text": "Daily Uptrend", "align": "center", "baseline": "alphabetic",
                   "font": "Open Sans", "fontWeight": "bold", "fontSize": 49.5, "color": "#4caf50", "clip": true},
          "encoding": {
            "x": {"datum": {"year":2021,"month":1,"date":5,"hours":19}, "type": "temporal", "axis": null},
            "y": {"datum": -60.6, "type": "quantitative"}
          }
        },
        {
          "data": {"name": "one"},
          "mark": {"type": "text", "text": "Daily Downtrend", "align": "center", "baseline": "alphabetic",
                   "font": "Open Sans", "fontWeight": "bold", "fontSize": 49, "color": "#d32f2f"},
          "encoding": {
            "x": {"datum": {"year":2021,"month":6,"date":3,"hours":9,"minutes":40}, "type": "temporal", "axis": null},
            "y": {"datum": 44.5, "type": "quantitative"}
          }
        },
        {
          "data": {"name": "one"},
          "mark": {"type": "text", "text": "TSI", "align": "left", "baseline": "middle",
                   "font": "Open Sans", "fontSize": 14.5, "color": "#555"},
          "encoding": {
            "x": {"datum": {"year":2020,"month":9,"date":28,"hours":2,"minutes":24}, "type": "temporal", "axis": null},
            "y": {"datum": 69.7, "type": "quantitative"}
          }
        },
        {
          "data": {"name": "one"},
          "mark": {"type": "rect", "fill": "#5d606b", "cornerRadius": 2},
          "encoding": {
            "x": {"datum": {"year":2021,"month":7,"date":17,"hours":10,"minutes":33}, "type": "temporal", "axis": null},
            "x2": {"datum": {"year":2021,"month":8,"date":7,"hours":3,"minutes":20}},
            "y": {"datum": 33.06, "type": "quantitative"},
            "y2": {"datum": 16.94}
          }
        },
        {
          "data": {"name": "one"},
          "mark": {"type": "rect", "fill": "#5d606b", "cornerRadius": 2},
          "encoding": {
            "x": {"datum": {"year":2021,"month":7,"date":17,"hours":10,"minutes":33}, "type": "temporal", "axis": null},
            "x2": {"datum": {"year":2021,"month":8,"date":9,"hours":9,"minutes":36}},
            "y": {"datum": -16.94, "type": "quantitative"},
            "y2": {"datum": -33.06}
          }
        },
        {
          "data": {"name": "one"},
          "mark": {"type": "text", "text": "25.0000", "align": "left", "baseline": "middle",
                   "font": "DejaVu Sans", "fontSize": 17.5, "color": "white"},
          "encoding": {
            "x": {"datum": {"year":2021,"month":7,"date":20,"hours":23}, "type": "temporal", "axis": null},
            "y": {"datum": 25, "type": "quantitative"}
          }
        },
        {
          "data": {"name": "one"},
          "mark": {"type": "text", "text": "−25.0000", "align": "left", "baseline": "middle",
                   "font": "DejaVu Sans", "fontSize": 17.5, "color": "white"},
          "encoding": {
            "x": {"datum": {"year":2021,"month":7,"date":20,"hours":23}, "type": "temporal", "axis": null},
            "y": {"datum": -25, "type": "quantitative"}
          }
        },
        {
          "data": {"name": "one"},
          "mark": {"type": "rect", "fillOpacity": 0, "stroke": "#9a9a9a", "strokeWidth": 1},
          "encoding": {
            "x": {"datum": {"year":2021,"month":7,"date":17,"hours":10,"minutes":33}, "type": "temporal", "axis": null},
            "x2": {"datum": {"year":2021,"month":8,"date":10,"hours":15,"minutes":50}},
            "y": {"datum": 84.52, "type": "quantitative"},
            "y2": {"datum": -65.16}
          }
        }
      ]
    },
    {
      "width": 1423,
      "height": 40,
      "layer": [
        {
          "data": {"name": "one"},
          "mark": {"type": "rule", "color": "#555", "strokeWidth": 1},
          "encoding": {
            "x": {"datum": {"year":2021,"month":4,"date":21,"hours":17}, "type": "temporal", "axis": null,
                  "scale": {"domain": [{"year":2020,"month":9,"date":25,"hours":19,"minutes":41},{"year":2021,"month":7,"date":17,"hours":10,"minutes":33}]}}
          }
        },
        {
          "data": {"name": "one"},
          "mark": {"type": "rect", "fillOpacity": 0, "stroke": "#5a5a5a", "strokeWidth": 1},
          "encoding": {
            "x": {"datum": {"year":2021,"month":7,"date":17,"hours":10,"minutes":33}, "type": "temporal", "axis": null},
            "x2": {"datum": {"year":2021,"month":8,"date":10,"hours":15,"minutes":50}},
            "y": {"datum": 1, "type": "quantitative", "axis": null, "scale": {"domain": [0, 1], "nice": false}},
            "y2": {"datum": 0}
          }
        }
      ]
    },
    {
      "width": 1423,
      "height": 40,
      "layer": [
        {
          "data": {"name": "one"},
          "mark": {"type": "rule", "color": "#555", "strokeWidth": 1},
          "encoding": {
            "x": {"datum": {"year":2021,"month":4,"date":21,"hours":17}, "type": "temporal",
                  "scale": {"domain": [{"year":2020,"month":9,"date":25,"hours":19,"minutes":41},{"year":2021,"month":7,"date":17,"hours":10,"minutes":33}]},
                  "axis": {"orient": "bottom", "title": null, "grid": false, "domain": false,
                           "values": [{"year":2020,"month":10,"date":1},{"year":2020,"month":11,"date":1},{"year":2020,"month":12,"date":1},
                                      {"year":2021,"month":1,"date":1},{"year":2021,"month":2,"date":1},{"year":2021,"month":3,"date":1},
                                      {"year":2021,"month":4,"date":1},{"year":2021,"month":6,"date":1},{"year":2021,"month":7,"date":1}],
                           "labelExpr": "month(datum.value) == 0 ? '2021' : timeFormat(datum.value, '%b')",
                           "labelFontWeight": {"condition": {"test": "month(datum.value) == 0", "value": "bold"}, "value": "normal"},
                           "labelColor": "#555",
                           "tickColor": "#888", "tickSize": 5, "labelPadding": 8,
                           "labelFont": "DejaVu Sans", "labelFontSize": 18.5, "labelFlush": false, "labelOverlap": false}}
          }
        },
        {
          "data": {"name": "one"},
          "mark": {"type": "rect", "fillOpacity": 0, "stroke": "#5a5a5a", "strokeWidth": 1},
          "encoding": {
            "x": {"datum": {"year":2021,"month":7,"date":17,"hours":10,"minutes":33}, "type": "temporal"},
            "x2": {"datum": {"year":2021,"month":8,"date":10,"hours":15,"minutes":50}},
            "y": {"datum": 1, "type": "quantitative", "scale": {"domain": [-0.075, 1], "nice": false, "zero": false},
                  "axis": {"orient": "right", "values": [0], "format": ".1f", "title": null, "grid": false, "domain": false,
                           "tickColor": "#888", "tickSize": 5, "labelPadding": 11, "labelFont": "DejaVu Sans",
                           "labelFontSize": 17.5, "labelColor": "#555"}},
            "y2": {"datum": -0.075}
          }
        },
        {
          "data": {"name": "one"},
          "mark": {"type": "rect", "fillOpacity": 0, "stroke": "#9a9a9a", "strokeWidth": 1},
          "encoding": {
            "x": {"datum": {"year":2020,"month":9,"date":25,"hours":19,"minutes":41}, "type": "temporal"},
            "x2": {"datum": {"year":2021,"month":8,"date":10,"hours":15,"minutes":50}},
            "y": {"datum": -0.075, "type": "quantitative"},
            "y2": {"datum": -1.365}
          }
        },
        {
          "data": {"name": "one"},
          "mark": {"type": "rule", "color": "#9a9a9a", "strokeWidth": 1},
          "encoding": {
            "x": {"datum": {"year":2021,"month":7,"date":17,"hours":10,"minutes":33}, "type": "temporal"},
            "y": {"datum": -0.075, "type": "quantitative"},
            "y2": {"datum": -1.365}
          }
        },
        {
          "data": {"name": "one"},
          "mark": {"type": "rect", "fill": "black", "cornerRadius": 3},
          "encoding": {
            "x": {"datum": {"year":2021,"month":4,"date":8,"hours":15,"minutes":30}, "type": "temporal"},
            "x2": {"datum": {"year":2021,"month":5,"date":3,"hours":21,"minutes":40}},
            "y": {"datum": -0.129, "type": "quantitative"},
            "y2": {"datum": -1.15}
          }
        },
        {
          "data": {"name": "one"},
          "mark": {"type": "text", "text": "22 Apr '21", "align": "center", "baseline": "middle",
                   "font": "DejaVu Sans", "fontSize": 18, "color": "white"},
          "encoding": {
            "x": {"datum": {"year":2021,"month":4,"date":21,"hours":12}, "type": "temporal"},
            "y": {"datum": -0.693, "type": "quantitative"}
          }
        },
        {
          "data": {"name": "one"},
          "mark": {"type": "text", "text": "17", "align": "left", "baseline": "middle",
                   "font": "Roboto", "fontWeight": 900, "fontSize": 22, "color": "#131722"},
          "encoding": {
            "x": {"datum": {"year":2020,"month":9,"date":25,"hours":19,"minutes":41}, "type": "temporal"},
            "y": {"datum": -2.01, "type": "quantitative"}
          }
        },
        {
          "data": {"name": "one"},
          "mark": {"type": "text", "text": "TradingView", "align": "left", "baseline": "middle",
                   "font": "Roboto", "fontWeight": 500, "fontSize": 20, "color": "#131722"},
          "encoding": {
            "x": {"datum": {"year":2020,"month":10,"date":3,"hours":1,"minutes":40}, "type": "temporal"},
            "y": {"datum": -2.01, "type": "quantitative"}
          }
        }
      ]
    }
  ]
}
